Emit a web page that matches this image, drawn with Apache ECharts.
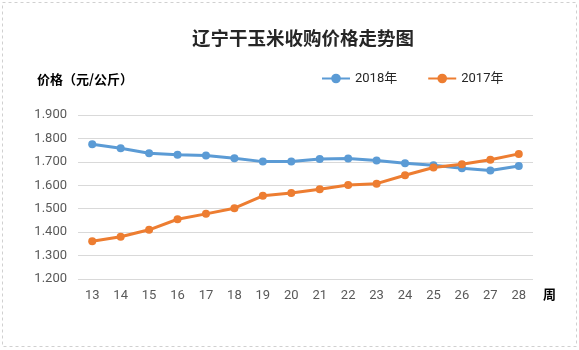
<!DOCTYPE html>
<html>
<head>
<meta charset="utf-8">
<script src="https://cdn.jsdelivr.net/npm/echarts@6/dist/echarts.min.js"></script>
<style>
  html, body { margin: 0; padding: 0; background: #fff; }
  #main { width: 579px; height: 350px; }
</style>
</head>
<body>
<div id="main"></div>
<script>
// 周次
var weeks = ['13', '14', '15', '16', '17', '18', '19', '20', '21', '22', '23', '24', '25', '26', '27', '28'];
// 2018年 价格（元/公斤）
var price2018 = [1.775, 1.758, 1.737, 1.730, 1.727, 1.715, 1.701, 1.702, 1.712, 1.714, 1.706, 1.694, 1.686, 1.673, 1.663, 1.682];
// 2017年 价格（元/公斤）
var price2017 = [1.361, 1.380, 1.410, 1.455, 1.478, 1.502, 1.555, 1.567, 1.583, 1.601, 1.607, 1.643, 1.676, 1.690, 1.709, 1.734];

var chart = echarts.init(document.getElementById('main'));

var fontCJK = '"Noto Sans CJK SC", "Noto Sans", sans-serif';

var option = {
  animation: false,
  textStyle: { fontFamily: fontCJK },
  title: {
    text: '辽宁干玉米收购价格走势图',
    left: 187,
    top: 24,
    textStyle: {
      color: '#262626',
      fontSize: 18.5,
      fontWeight: 'bold',
      fontFamily: fontCJK
    }
  },
  legend: {
    left: 316,
    top: 67,
    itemWidth: 28,
    itemHeight: 12,
    itemGap: 30,
    textStyle: { color: '#262626', fontSize: 13, fontFamily: 'Roboto, "Noto Sans CJK SC", sans-serif' },
    data: ['2018年', '2017年']
  },
  grid: {
    left: 78,
    right: 46,
    top: 115,
    bottom: 71
  },
  xAxis: {
    type: 'category',
    data: weeks,
    boundaryGap: true,
    axisLine: { show: false },
    axisTick: { show: false },
    axisLabel: {
      color: '#595959',
      fontSize: 13,
      margin: 10,
      fontFamily: 'Roboto, sans-serif'
    }
  },
  yAxis: {
    type: 'value',
    min: 1.2,
    max: 1.9,
    interval: 0.1,
    axisLine: { show: false },
    axisTick: { show: false },
    axisLabel: {
      color: '#595959',
      fontSize: 13,
      margin: 11,
      fontFamily: 'Roboto, sans-serif',
      formatter: function (v) { return v.toFixed(3); }
    },
    splitLine: { lineStyle: { color: '#d9d9d9', width: 1 } }
  },
  graphic: [
    {
      type: 'rect',
      shape: { x: 2.5, y: 2.5, width: 574, height: 344 },
      style: { fill: 'none', stroke: '#d0d0d0', lineWidth: 1, lineDash: [3, 3] }
    },
    {
      type: 'text',
      left: 37,
      top: 73,
      style: { text: '价格（元/公斤）', fill: '#000', font: 'bold 13px "Noto Sans CJK SC", sans-serif' }
    },
    {
      type: 'text',
      left: 543,
      top: 288,
      style: { text: '周', fill: '#000', font: 'bold 13px "Noto Sans CJK SC", sans-serif' }
    }
  ],
  series: [
    {
      name: '2018年',
      type: 'line',
      data: price2018,
      symbol: 'circle',
      symbolSize: 8,
      lineStyle: { width: 3, color: '#5B9BD5' },
      itemStyle: { color: '#5B9BD5' }
    },
    {
      name: '2017年',
      type: 'line',
      data: price2017,
      symbol: 'circle',
      symbolSize: 8,
      lineStyle: { width: 3, color: '#ED7D31' },
      itemStyle: { color: '#ED7D31' }
    }
  ]
};

chart.setOption(option);
</script>
</body>
</html>
